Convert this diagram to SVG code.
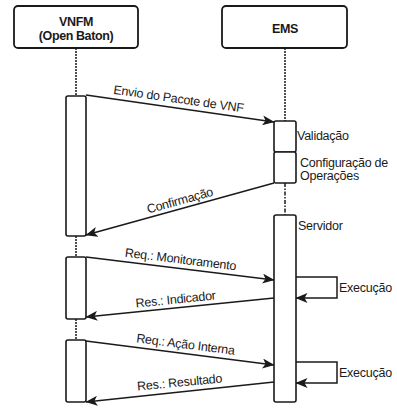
<svg xmlns="http://www.w3.org/2000/svg" width="397" height="412" viewBox="0 0 397 412">
  <defs>
    <marker id="arrow" viewBox="0 0 12 10" refX="11.5" refY="5" markerWidth="12" markerHeight="10" markerUnits="userSpaceOnUse" orient="auto">
      <path d="M0,0 L12,5 L0,10 L3,5 z" fill="#1a1a1a"/>
    </marker>
    <style>
      .box { fill: #ffffff; stroke: #1a1a1a; stroke-width: 1.8; }
      .act { fill: #ffffff; stroke: #1a1a1a; stroke-width: 1.6; }
      .life { fill: none; stroke: #1a1a1a; stroke-width: 1.5; stroke-dasharray: 2 1; }
      .lifedash { fill: none; stroke: #1a1a1a; stroke-width: 1.5; stroke-dasharray: 4 1.5 1.5 1.5; }
      .msg { fill: none; stroke: #1a1a1a; stroke-width: 1.5; marker-end: url(#arrow); }
      .title { font-family: "Liberation Sans", Arial, sans-serif; font-size: 12.5px; font-weight: bold; fill: #1a1a1a; text-anchor: middle; letter-spacing: -0.4px; }
      .lbl { font-family: "Liberation Sans", Arial, sans-serif; font-size: 12.5px; fill: #1a1a1a; letter-spacing: -0.25px; }
      .mid { text-anchor: middle; }
    </style>
  </defs>

  <!-- participant: VNFM -->
  <g id="vnfm">
    <rect class="box" x="14" y="6" width="124" height="42" rx="4"/>
    <text class="title" x="76" y="26">VNFM</text>
    <text class="title" x="76" y="40">(Open Baton)</text>
  </g>

  <!-- participant: EMS -->
  <g id="ems">
    <rect class="box" x="222" y="6" width="125" height="42" rx="4"/>
    <text class="title" x="285" y="33">EMS</text>
  </g>

  <!-- lifelines -->
  <g id="lifelines">
    <line class="life" x1="76" y1="48" x2="76" y2="96"/>
    <line class="life" x1="76" y1="236" x2="76" y2="257"/>
    <line class="life" x1="76" y1="319" x2="76" y2="340"/>
    <line class="life" x1="285" y1="48" x2="285" y2="121"/>
    <line class="lifedash" x1="285" y1="183" x2="285" y2="215"/>
  </g>

  <!-- VNFM activations -->
  <g id="vnfm-act1"><rect class="act" x="66" y="96" width="20" height="140" rx="2"/></g>
  <g id="vnfm-act2"><rect class="act" x="66" y="257" width="20" height="62" rx="2"/></g>
  <g id="vnfm-act3"><rect class="act" x="66" y="340" width="20" height="62" rx="2"/></g>

  <!-- EMS activations -->
  <g id="validacao">
    <rect class="act" x="274" y="121" width="22" height="31" rx="2"/>
    <text class="lbl" x="297" y="140">Validação</text>
  </g>
  <g id="configuracao">
    <rect class="act" x="274" y="152" width="22" height="31" rx="2"/>
    <text class="lbl" x="300" y="167">Configuração de</text>
    <text class="lbl" x="300" y="180">Operações</text>
  </g>
  <g id="servidor">
    <rect class="act" x="274" y="215" width="22" height="187" rx="2"/>
    <text class="lbl" x="298" y="230">Servidor</text>
  </g>

  <!-- messages -->
  <g id="connectors">
    <line class="msg" x1="86" y1="95" x2="274" y2="122"/>
    <line class="msg" x1="274" y1="183" x2="86" y2="235"/>
    <line class="msg" x1="86" y1="257" x2="274" y2="280"/>
    <line class="msg" x1="274" y1="298" x2="86" y2="317"/>
    <line class="msg" x1="86" y1="341" x2="274" y2="365"/>
    <line class="msg" x1="274" y1="382" x2="86" y2="402"/>
    <polyline class="msg" points="296,277 337,277 337,298 296,298"/>
    <polyline class="msg" points="296,362 337,362 337,383 296,383"/>
  </g>

  <!-- message labels -->
  <g id="labels">
    <text class="lbl mid" transform="translate(178,103) rotate(8.17)">Envio do Pacote de VNF</text>
    <text class="lbl mid" transform="translate(181,204.5) rotate(-15.5)">Confirmação</text>
    <text class="lbl mid" transform="translate(180,263.5) rotate(6.97)">Req.: Monitoramento</text>
    <text class="lbl mid" transform="translate(176,303.5) rotate(-5.8)">Res.: Indicador</text>
    <text class="lbl mid" transform="translate(185,348.5) rotate(7.3)">Req.: Ação Interna</text>
    <text class="lbl mid" transform="translate(180,386.5) rotate(-5.5)">Res.: Resultado</text>
    <text class="lbl" x="339" y="292">Execução</text>
    <text class="lbl" x="339" y="377">Execução</text>
  </g>
</svg>
